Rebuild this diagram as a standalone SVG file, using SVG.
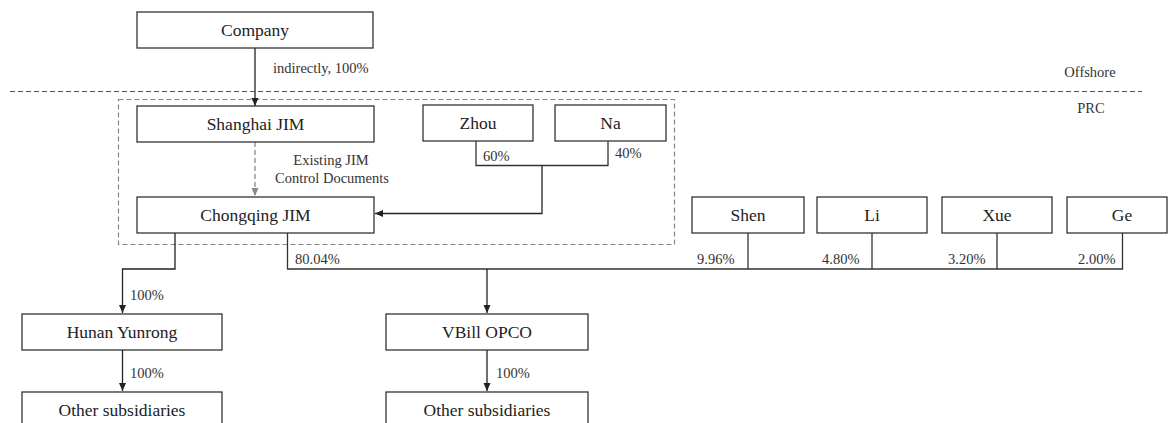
<svg xmlns="http://www.w3.org/2000/svg" width="1168" height="423" viewBox="0 0 1168 423">
<defs>
<marker id="ah" markerWidth="10" markerHeight="10" refX="9" refY="5" orient="auto" markerUnits="userSpaceOnUse"><path d="M1,1.5 L9,5 L1,8.5 Z" fill="#222"/></marker>
<marker id="ahg" markerWidth="10" markerHeight="10" refX="9" refY="5" orient="auto" markerUnits="userSpaceOnUse"><path d="M1,1.5 L9,5 L1,8.5 Z" fill="#888"/></marker>
<style>
.box{fill:#fff;stroke:#333;stroke-width:1.3}
.nt{font-family:"Liberation Serif","Times New Roman",serif;font-size:17.5px;fill:#222;text-anchor:middle}
.lt{font-family:"Liberation Serif","Times New Roman",serif;font-size:14.5px;fill:#333}
.ln{fill:none;stroke:#333;stroke-width:1.3}
.arr{fill:none;stroke:#222;stroke-width:1.3;marker-end:url(#ah)}
.darr{fill:none;stroke:#888;stroke-width:1.3;stroke-dasharray:5,3;marker-end:url(#ahg)}
</style>
</defs>
<rect width="1168" height="423" fill="#fff"/>
<g id="boundary">
<line x1="10" y1="91.5" x2="1142" y2="91.5" stroke="#555" stroke-width="1.2" stroke-dasharray="5,3"/>
<text class="lt" x="1090" y="77" text-anchor="middle">Offshore</text>
<text class="lt" x="1091" y="113" text-anchor="middle">PRC</text>
</g>
<g id="vie-group">
<rect x="118.5" y="99.5" width="556" height="145" fill="none" stroke="#888" stroke-width="1.2" stroke-dasharray="5,3"/>
</g>
<g id="connectors">
<line class="arr" x1="255" y1="48" x2="255" y2="106"/>
<line class="darr" x1="255" y1="142" x2="255" y2="196"/>
<polyline class="ln" points="476,141 476,165.5 608,165.5 608,141"/>
<polyline class="arr" points="542,165.5 542,213.5 375,213.5"/>
<polyline class="arr" points="175,233 175,269 122.5,269 122.5,313"/>
<line class="arr" x1="122.5" y1="350" x2="122.5" y2="391"/>
<polyline class="ln" points="287.5,233 287.5,269 1122.5,269 1122.5,233"/>
<line class="ln" x1="748" y1="233" x2="748" y2="269"/>
<line class="ln" x1="872" y1="233" x2="872" y2="269"/>
<line class="ln" x1="997" y1="233" x2="997" y2="269"/>
<line class="arr" x1="487" y1="269" x2="487" y2="313"/>
<line class="arr" x1="487" y1="350" x2="487" y2="391"/>
<text class="lt" x="273" y="73">indirectly, 100%</text>
<text class="lt" x="331" y="165" text-anchor="middle">Existing JIM</text>
<text class="lt" x="332" y="183" text-anchor="middle">Control Documents</text>
<text class="lt" x="483" y="161">60%</text>
<text class="lt" x="615" y="158">40%</text>
<text class="lt" x="295" y="264">80.04%</text>
<text class="lt" x="697" y="264">9.96%</text>
<text class="lt" x="822" y="264">4.80%</text>
<text class="lt" x="948" y="264">3.20%</text>
<text class="lt" x="1078" y="264">2.00%</text>
<text class="lt" x="130" y="300">100%</text>
<text class="lt" x="130" y="378">100%</text>
<text class="lt" x="496" y="378">100%</text>
</g>
<g id="company"><rect class="box" x="137" y="12" width="236" height="36"/><text class="nt" x="255" y="35.5">Company</text></g>
<g id="shanghai-jim"><rect class="box" x="137" y="106" width="237" height="36"/><text class="nt" x="255.5" y="129.5">Shanghai JIM</text></g>
<g id="zhou"><rect class="box" x="423" y="105" width="110" height="36"/><text class="nt" x="478" y="128.5">Zhou</text></g>
<g id="na"><rect class="box" x="555" y="105" width="111" height="36"/><text class="nt" x="610.5" y="128.5">Na</text></g>
<g id="chongqing-jim"><rect class="box" x="137" y="197" width="237" height="36"/><text class="nt" x="255.5" y="220.5">Chongqing JIM</text></g>
<g id="shen"><rect class="box" x="692" y="197" width="112" height="36"/><text class="nt" x="748" y="220.5">Shen</text></g>
<g id="li"><rect class="box" x="817" y="197" width="110" height="36"/><text class="nt" x="872" y="220.5">Li</text></g>
<g id="xue"><rect class="box" x="942" y="197" width="110" height="36"/><text class="nt" x="997" y="220.5">Xue</text></g>
<g id="ge"><rect class="box" x="1067" y="197" width="100" height="36"/><text class="nt" x="1122" y="220.5">Ge</text></g>
<g id="hunan-yunrong"><rect class="box" x="22" y="314" width="200" height="36"/><text class="nt" x="122" y="337.5">Hunan Yunrong</text></g>
<g id="vbill-opco"><rect class="box" x="386" y="314" width="202" height="36"/><text class="nt" x="487" y="337.5">VBill OPCO</text></g>
<g id="other-subsidiaries-1"><rect class="box" x="22" y="392" width="200" height="40"/><text class="nt" x="122" y="415.5">Other subsidiaries</text></g>
<g id="other-subsidiaries-2"><rect class="box" x="386" y="392" width="202" height="40"/><text class="nt" x="487" y="415.5">Other subsidiaries</text></g>
</svg>
